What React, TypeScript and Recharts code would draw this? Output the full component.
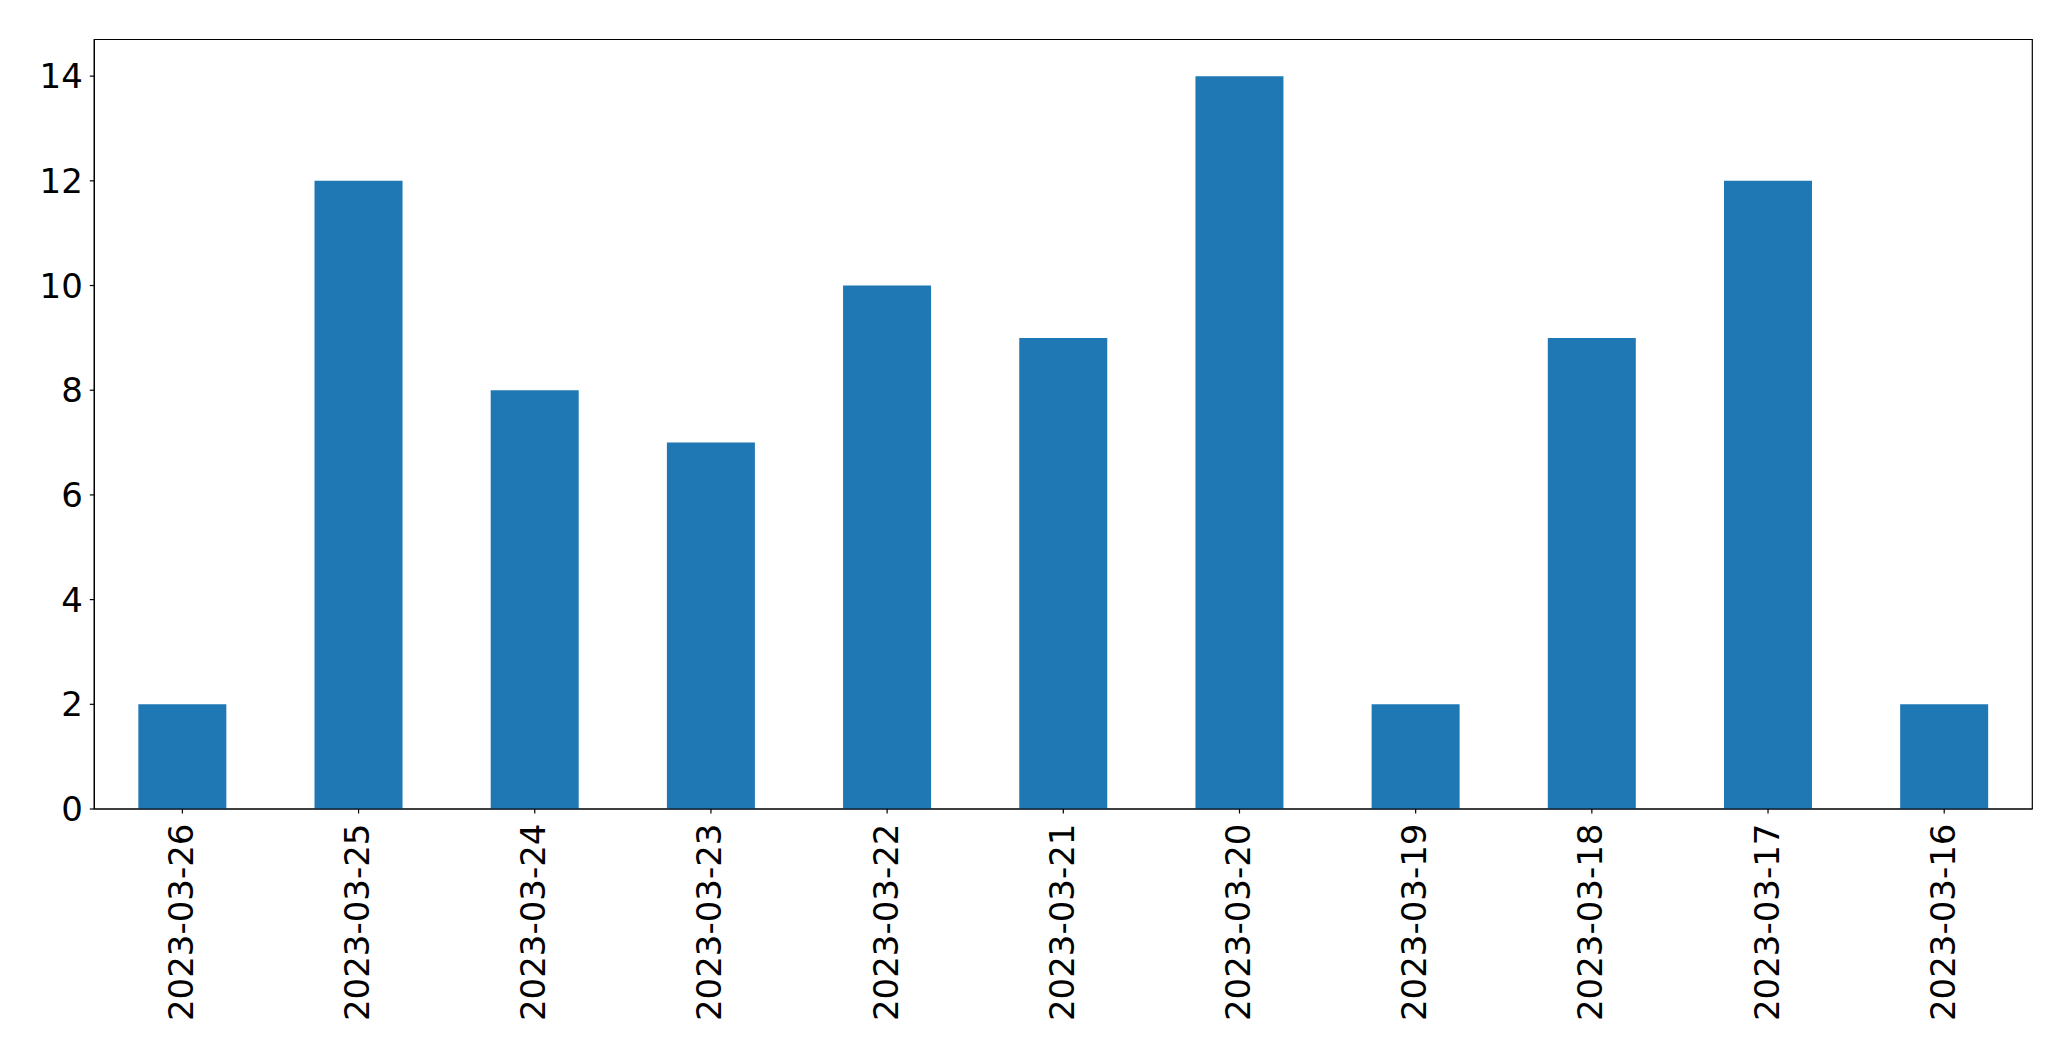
import React from 'react';
import { BarChart, Bar, XAxis, YAxis, ReferenceArea } from 'recharts';

const dates = ['2023-03-26', '2023-03-25', '2023-03-24', '2023-03-23', '2023-03-22', '2023-03-21', '2023-03-20', '2023-03-19', '2023-03-18', '2023-03-17', '2023-03-16'];
const counts = [2, 12, 8, 7, 10, 9, 14, 2, 9, 12, 2];
const yTicks = [0, 2, 4, 6, 8, 10, 12, 14];
const yMax = 14.7;

const data = dates.map((d, i) => ({ date: d, count: counts[i] }));

const FONT = 'DejaVu Sans';
const FS = 34;

const XTick = (props: any) => {
  const { x, y, payload } = props;
  return (
    <g transform={`translate(${x},${y + 10}) rotate(-90)`}>
      <text x={0} y={-1.5} textAnchor="end" dominantBaseline="central" fontFamily={FONT} fontSize={FS} fill="#000">
        {payload.value}
      </text>
    </g>
  );
};

export default function App() {
  return (
    <div style={{ position: 'absolute', left: 0, top: 0, width: 2071, height: 1061, background: '#fff' }}>
      <BarChart
        width={2071}
        height={1061}
        data={data}
        margin={{ top: 39.5, right: 38.7, left: 0, bottom: 0 }}
        barCategoryGap="25%"
      >
        <XAxis
          dataKey="date"
          height={252}
          interval={0}
          tickSize={4.5}
          tickMargin={0}
          stroke="#000"
          tick={<XTick />}
          axisLine={{ stroke: '#000', strokeWidth: 1.2 }}
          tickLine={{ stroke: '#000', strokeWidth: 1.2 }}
        />
        <YAxis
          width={94.3}
          domain={[0, yMax]}
          ticks={yTicks}
          interval={0}
          tickSize={4.5}
          tickMargin={7}
          stroke="#000"
          tick={{ fill: '#000', fontSize: FS, fontFamily: FONT }}
          axisLine={{ stroke: '#000', strokeWidth: 1.2 }}
          tickLine={{ stroke: '#000', strokeWidth: 1.2 }}
        />
        <Bar dataKey="count" fill="#1f77b4" isAnimationActive={false} />
        <ReferenceArea
          x1={dates[0]}
          x2={dates[dates.length - 1]}
          y1={0}
          y2={yMax}
          fill="none"
          fillOpacity={0}
          stroke="#000"
          strokeWidth={1.2}
          ifOverflow="visible"
        />
      </BarChart>
    </div>
  );
}
